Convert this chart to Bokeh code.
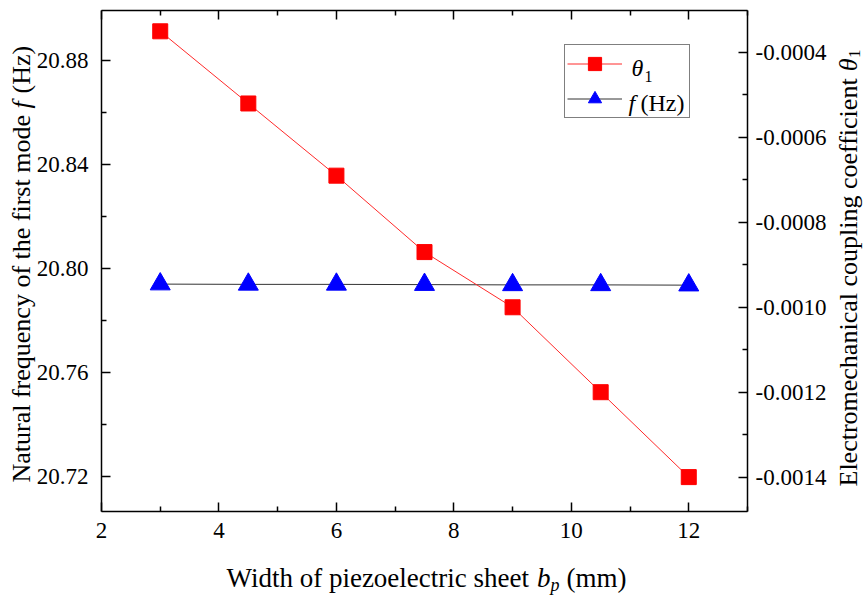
from math import pi
from bokeh.plotting import figure
from bokeh.models import (Range1d, LinearAxis, FixedTicker, PrintfTickFormatter,
                          Label, Legend, LegendItem, ColumnDataSource)
from bokeh.embed import file_html
from bokeh.resources import INLINE

# ---------------- data ----------------
width_mm = [3, 4.5, 6, 7.5, 9, 10.5, 12]
theta1 = [-0.00035, -0.00052, -0.00069, -0.00087, -0.00100, -0.00120, -0.00140]
freq_hz = [20.7940, 20.7939, 20.7939, 20.7938, 20.7937, 20.7937, 20.7936]

x_ticks = [2, 4, 6, 8, 10, 12]
x_minor = [3, 5, 7, 9, 11, 13]
f_ticks = [20.72, 20.76, 20.80, 20.84, 20.88]
f_minor = [20.74, 20.78, 20.82, 20.86]
t_ticks = [-0.0014, -0.0012, -0.0010, -0.0008, -0.0006, -0.0004]
t_minor = [-0.0013, -0.0011, -0.0009, -0.0007, -0.0005]

x_axis_span = (2, 13)
f_axis_span = (20.70654, 20.89923)
t_axis_span = (-0.001481, -0.000301)

x_title = "Width of piezoelectric sheet "
f_title = "Natural frequency of the first mode "
t_title = "Electromechanical coupling coefficient "

# ---------------- layout (pixels) ----------------
W, H = 864, 602
BOX_L, BOX_R, BOX_T, BOX_B = 101, 747, 10, 511   # axes box inside the canvas
FONT = "Liberation Serif"


def extend(span, lo_px, hi_px, box_px, total_px):
    """Range for the full canvas so that `span` falls on the axes box."""
    a, b = span
    k = (b - a) / box_px
    return (a - lo_px * k, b + (total_px - box_px - lo_px) * k)


xr = extend(x_axis_span, BOX_L, W - BOX_R, BOX_R - BOX_L, W)
fr = extend(f_axis_span, H - BOX_B, BOX_T, BOX_B - BOX_T, H)
tr = extend(t_axis_span, H - BOX_B, BOX_T, BOX_B - BOX_T, H)

src = ColumnDataSource(dict(x=width_mm, t=theta1, f=freq_hz))

p = figure(width=W, height=H, output_backend="svg", toolbar_location=None,
           x_range=Range1d(*xr), y_range=Range1d(*fr),
           x_axis_location=None, y_axis_location=None,
           min_border=0, min_border_left=0, min_border_right=0,
           min_border_top=0, min_border_bottom=0,
           background_fill_color="white", border_fill_color="white")
p.extra_y_ranges = {"theta": Range1d(*tr)}
p.xgrid.visible = False
p.ygrid.visible = False
p.outline_line_color = None


def style(ax, size="23px", standoff=8):
    ax.axis_line_color = "black"
    ax.axis_line_width = 1.5
    ax.major_tick_line_color = "black"
    ax.major_tick_line_width = 1.5
    ax.minor_tick_line_color = "black"
    ax.minor_tick_line_width = 1.5
    ax.major_tick_in = 9
    ax.major_tick_out = 0
    ax.minor_tick_in = 5
    ax.minor_tick_out = 0
    ax.major_label_text_font = FONT
    ax.major_label_text_font_size = size
    ax.major_label_text_color = "black"
    ax.major_label_standoff = standoff


bottom_axis = LinearAxis(fixed_location=f_axis_span[0], bounds=x_axis_span,
                         ticker=FixedTicker(ticks=x_ticks, minor_ticks=x_minor))
style(bottom_axis, standoff=11)
p.add_layout(bottom_axis, "below")

top_axis = LinearAxis(fixed_location=f_axis_span[1], bounds=x_axis_span,
                      ticker=FixedTicker(ticks=x_ticks, minor_ticks=x_minor))
style(top_axis, standoff=0)
top_axis.major_label_overrides = {t: "" for t in x_ticks}
p.add_layout(top_axis, "above")

left_axis = LinearAxis(fixed_location=x_axis_span[0], bounds=f_axis_span,
                       ticker=FixedTicker(ticks=f_ticks, minor_ticks=f_minor),
                       formatter=PrintfTickFormatter(format="%.2f"))
style(left_axis, standoff=13)
p.add_layout(left_axis, "left")

right_axis = LinearAxis(y_range_name="theta", fixed_location=x_axis_span[1],
                        bounds=t_axis_span,
                        ticker=FixedTicker(ticks=t_ticks, minor_ticks=t_minor),
                        formatter=PrintfTickFormatter(format="%.4f"))
style(right_axis, standoff=8)
p.add_layout(right_axis, "right")

# ---------------- series ----------------
f_line = p.line("x", "f", source=src, line_color="#333333", line_width=1)
f_pts = p.scatter("x", "f", source=src, marker="triangle", size=20,
                  fill_color="#0000ff", line_color="#0000ff")
t_line = p.line("x", "t", source=src, y_range_name="theta",
                line_color="#ff2a2a", line_width=1)
t_pts = p.scatter("x", "t", source=src, y_range_name="theta", marker="square",
                  size=15, fill_color="#ff0000", line_color="#ff0000")

legend = Legend(items=[LegendItem(label=" ", renderers=[t_line, t_pts]),
                       LegendItem(label=" ", renderers=[f_line, f_pts])],
                location=(564, H - 118), orientation="vertical",
                border_line_color="black", border_line_width=1,
                background_fill_alpha=0,
                padding=2, spacing=2, glyph_width=55, glyph_height=33,
                label_height=33, label_width=60, label_standoff=5, margin=0,
                label_text_font_size="10px")
p.add_layout(legend)


# ---------------- titles & legend texts ----------------
def lab(text, x, y, size, style="normal", angle=0.0):
    """x, y: canvas pixels from the left / from the top (y = text middle)."""
    p.add_layout(Label(x=x, y=H - y, x_units="screen", y_units="screen",
                       text=text, angle=angle, text_align="left",
                       text_baseline="middle", text_font=FONT,
                       text_font_size=size, text_font_style=style,
                       text_color="black", level="overlay"))


# x title (middle at y = 577)
lab(x_title, 226, 577, "27px")
lab("b", 536.4, 577, "27px", "italic")
lab("p", 550, 584, "18px", "italic")
lab("(mm)", 566, 577, "27px")

# left title, reading upward (middle at x = 21)
ly0 = 482
lab(f_title, 21, ly0, "26px", angle=pi / 2)
lab("f", 21, ly0 - 374.0, "26px", "italic", angle=pi / 2)
lab("(Hz)", 21, ly0 - 389.0, "26px", angle=pi / 2)

# right title, reading upward (middle at x = 848)
ry0 = 486
lab(t_title, 848, ry0, "26px", angle=pi / 2)
lab("\u03b8", 848, ry0 - 415.2, "26px", "italic", angle=pi / 2)
lab("1", 854, ry0 - 428.5, "17px", angle=pi / 2)

# legend texts
lab("\u03b8", 631, 67, "24px", "italic")
lab("1", 644, 76, "16px")
lab("f", 628, 102, "24px", "italic")
lab("(Hz)", 640, 102, "24px")

open("out.html", "w").write(file_html(p, INLINE))
